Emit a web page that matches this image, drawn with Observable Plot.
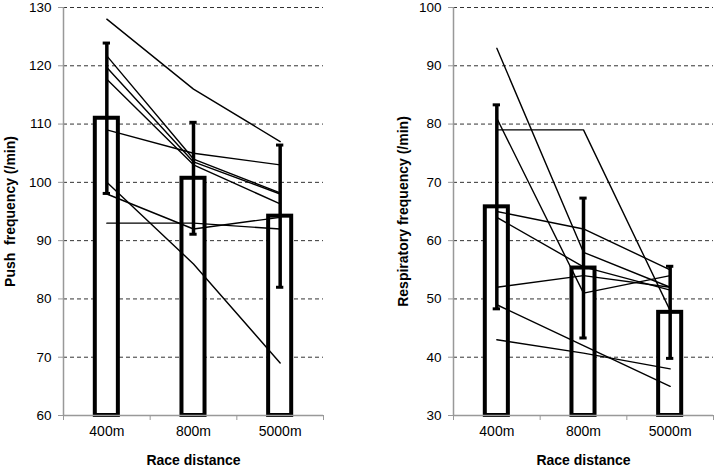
<!DOCTYPE html>
<html>
<head>
<meta charset="utf-8">
<script src="https://cdn.jsdelivr.net/npm/d3@7"></script>
<script src="https://cdn.jsdelivr.net/npm/@observablehq/plot@0.6"></script>
<style>
  html, body { margin: 0; padding: 0; background: #fff; }
  #wrap { display: flex; flex-direction: row; width: 716px; height: 467px; }
  svg { display: block; }
</style>
</head>
<body>
<div id="wrap"></div>
<script>
const categories = ["400m", "800m", "5000m"];

const pushMean = [111.0, 100.7, 94.2];
const pushSD = [12.9, 9.6, 12.2];
const pushSubjects = [
  [128, 116, 107],
  [121.7, 104, 98.2],
  [119.7, 103.5, 98],
  [117.7, 103, 96.3],
  [109, 105, 103],
  [100, 86, 69],
  [98, 92, 94],
  [93, 93, 92]
];
const pushTicks = [60, 70, 80, 90, 100, 110, 120, 130];

const respMean = [65.8, 55.3, 47.7];
const respSD = [17.5, 12.0, 7.9];
const respSubjects = [
  [93, 58, 52],
  [81, 51, 54],
  [79, 79, 48],
  [65, 62, 55],
  [64, 55.5, 51.5],
  [52, 54, 52],
  [49, 42, 35],
  [43, 40.7, 38]
];
const respTicks = [30, 40, 50, 60, 70, 80, 90, 100];

const xTitle = "Race distance";

function panel({ticks, mean, sd, subjects, title, width, marginLeft, marginRight, titleDx}) {
  const yMin = ticks[0], yMax = ticks[ticks.length - 1];
  const bars = categories.map((c, i) => ({i, mean: mean[i], sd: sd[i]}));
  const pts = subjects.flatMap((vals, s) => vals.map((v, i) => ({s, i, v})));
  const halfBar = 0.133, halfCap = 0.042;
  return Plot.plot({
    width,
    height: 467,
    marginTop: 7,
    marginBottom: 52,
    marginLeft,
    marginRight,
    style: {fontFamily: "'Liberation Sans', Arial, sans-serif", fontSize: "13px", background: "white", color: "black"},
    x: {type: "linear", domain: [-0.5, 2.5], axis: null},
    y: {domain: [yMin, yMax], axis: null},
    marks: [
      Plot.ruleY(ticks.slice(1), {stroke: "#333", strokeWidth: 1, strokeDasharray: "4,3"}),
      Plot.rectY(bars, {x1: d => d.i - halfBar, x2: d => d.i + halfBar, y1: yMin, y2: "mean", fill: "white", stroke: "black", strokeWidth: 4}),
      Plot.ruleX(bars, {x: "i", y1: d => d.mean - d.sd, y2: d => d.mean + d.sd, stroke: "black", strokeWidth: 3.5}),
      Plot.ruleY(bars, {y: d => d.mean + d.sd, x1: d => d.i - halfCap, x2: d => d.i + halfCap, stroke: "black", strokeWidth: 3}),
      Plot.ruleY(bars, {y: d => d.mean - d.sd, x1: d => d.i - halfCap, x2: d => d.i + halfCap, stroke: "black", strokeWidth: 3}),
      Plot.lineY(pts, {x: "i", y: "v", z: "s", stroke: "black", strokeWidth: 1.4}),
      Plot.ruleX([-0.5], {stroke: "#999", strokeWidth: 1.5}),
      Plot.ruleY([yMin], {stroke: "#999", strokeWidth: 1.5}),
      Plot.axisY({ticks, tickSize: 5, tickPadding: 7, stroke: "#999", fontSize: 13.5, label: null}),
      Plot.axisX({ticks: [-0.5, 0.5, 1.5, 2.5], tickSize: 5, tickFormat: () => "", stroke: "#999", label: null}),
      Plot.axisX({ticks: [0, 1, 2], tickSize: 0, tickPadding: 11, tickFormat: i => categories[i], fontSize: 14, label: null}),
      Plot.text([title], {frameAnchor: "left", rotate: -90, dx: titleDx, textAnchor: "middle", lineAnchor: "middle", fontWeight: "bold", fontSize: 14}),
      Plot.text([xTitle], {frameAnchor: "bottom", dy: 45, lineAnchor: "middle", fontWeight: "bold", fontSize: 14})
    ]
  });
}

const wrap = document.getElementById("wrap");
wrap.appendChild(panel({
  ticks: pushTicks, mean: pushMean, sd: pushSD, subjects: pushSubjects,
  title: "Push  frequency (/min)", width: 358, marginLeft: 63, marginRight: 35, titleDx: -53
}));
wrap.appendChild(panel({
  ticks: respTicks, mean: respMean, sd: respSD, subjects: respSubjects,
  title: "Respiratory frequency (/min)", width: 358, marginLeft: 95, marginRight: 3, titleDx: -50
}));
</script>
</body>
</html>
